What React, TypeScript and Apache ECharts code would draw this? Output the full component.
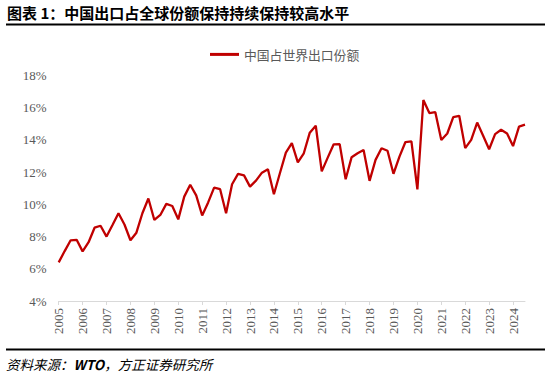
import React, { useEffect, useRef } from "react";
import * as echarts from "echarts";

const years = [
  "2005", "2006", "2007", "2008", "2009", "2010", "2011", "2012", "2013", "2014",
  "2015", "2016", "2017", "2018", "2019", "2020", "2021", "2022", "2023", "2024",
];
const quarters = ["Q1", "Q2", "Q3", "Q4"];
const lastQuarterCount = 3; // data runs to 2024Q3

const seriesName = "中国占世界出口份额";
const shareValues = [
  6.4, 7.1, 7.77, 7.8,
  7.08, 7.65, 8.55, 8.67,
  8.0, 8.72, 9.45, 8.75,
  7.77, 8.24, 9.45, 10.36,
  9.03, 9.34, 10.03, 9.9,
  9.07, 10.48, 11.22, 10.56,
  9.31, 10.12, 11.04, 10.94,
  9.45, 11.25, 11.89, 11.8,
  11.1, 11.47, 11.97, 12.18,
  10.63, 11.93, 13.21, 13.8,
  12.61, 13.17, 14.45, 14.88,
  12.05, 12.9, 13.73, 13.74,
  11.56, 12.93, 13.17, 13.37,
  11.46, 12.76, 13.48, 13.33,
  11.9, 12.96, 13.87, 13.91,
  10.93, 16.48, 15.67, 15.72,
  14.0, 14.4, 15.42, 15.5,
  13.49, 14.0, 15.08, 14.26,
  13.42, 14.36, 14.63, 14.4,
  13.62, 14.83, 14.95,
];

const yTicks = { min: 4, max: 18, interval: 2 };
const titleText = "图表 1：中国出口占全球份额保持持续保持较高水平";
const sourcePrefix = "资料来源：";
const sourceOrg = "WTO";
const sourceSuffix = "，方正证券研究所";

const categories: string[] = [];
years.forEach((y, yi) => {
  const n = yi === years.length - 1 ? lastQuarterCount : quarters.length;
  for (let q = 0; q < n; q++) categories.push(y + quarters[q]);
});

export default function App() {
  const ref = useRef<HTMLDivElement>(null);
  useEffect(() => {
    if (!ref.current) return;
    const chart = echarts.init(ref.current, undefined, { renderer: "svg" });
    const cjk = '"Noto Sans CJK SC", "Noto Sans", sans-serif';
    const serif = '"Liberation Serif", "Times New Roman", "DejaVu Serif", serif';
    chart.setOption({
      animation: false,
      backgroundColor: "#ffffff",
      grid: { left: 58.7, right: 25, top: 75.5, bottom: 72, containLabel: false },
      legend: {
        data: [{ name: seriesName }],
        left: 205,
        top: 43,
        icon: "rect",
        itemWidth: 29,
        itemHeight: 3,
        itemGap: 10,
        textStyle: { color: "#595959", fontSize: 12.8, fontFamily: cjk },
      },
      xAxis: {
        type: "category",
        data: categories,
        boundaryGap: false,
        axisLine: { show: true, lineStyle: { color: "#D9D9D9", width: 1 } },
        axisTick: {
          show: true,
          interval: 3,
          length: 4,
          lineStyle: { color: "#D9D9D9" },
        },
        axisLabel: {
          interval: 3,
          rotate: 90,
          margin: 7,
          color: "#595959",
          fontSize: 13,
          fontFamily: serif,
          formatter: (v: string) => v.slice(0, 4),
        },
        splitLine: { show: false },
      },
      yAxis: {
        type: "value",
        min: yTicks.min,
        max: yTicks.max,
        interval: yTicks.interval,
        axisLine: { show: false },
        axisTick: { show: false },
        splitLine: { show: false },
        axisLabel: {
          margin: 12,
          color: "#595959",
          fontSize: 13,
          fontFamily: serif,
          formatter: "{value}%",
        },
      },
      series: [
        {
          name: seriesName,
          type: "line",
          data: shareValues,
          showSymbol: false,
          symbol: "none",
          lineStyle: { color: "#C00000", width: 2.3 },
          itemStyle: { color: "#C00000" },
        },
      ],
      graphic: [
        {
          type: "text",
          left: 7,
          top: 5,
          style: {
            text: titleText,
            fill: "#000000",
            font: `bold 15px ${cjk}`,
          },
        },
        {
          type: "line",
          shape: { x1: 6, y1: 24.5, x2: 545, y2: 24.5 },
          style: { stroke: "#000000", lineWidth: 2 },
        },
        {
          type: "line",
          shape: { x1: 6, y1: 349.5, x2: 545, y2: 349.5 },
          style: { stroke: "#000000", lineWidth: 2 },
        },
        {
          type: "text",
          left: 6,
          top: 357,
          style: {
            text: `${sourcePrefix}{b|${sourceOrg}}${sourceSuffix}`,
            fill: "#000000",
            fontStyle: "italic",
            fontSize: 13.5,
            fontFamily: cjk,
            rich: {
              b: {
                fontStyle: "italic",
                fontWeight: "bold",
                fontSize: 13.5,
                fontFamily: cjk,
                fill: "#000000",
              },
            },
          },
        },
      ],
    });
    return () => chart.dispose();
  }, []);
  return (
    <div
      ref={ref}
      style={{ position: "fixed", left: 0, top: 0, width: 550, height: 373 }}
    />
  );
}
